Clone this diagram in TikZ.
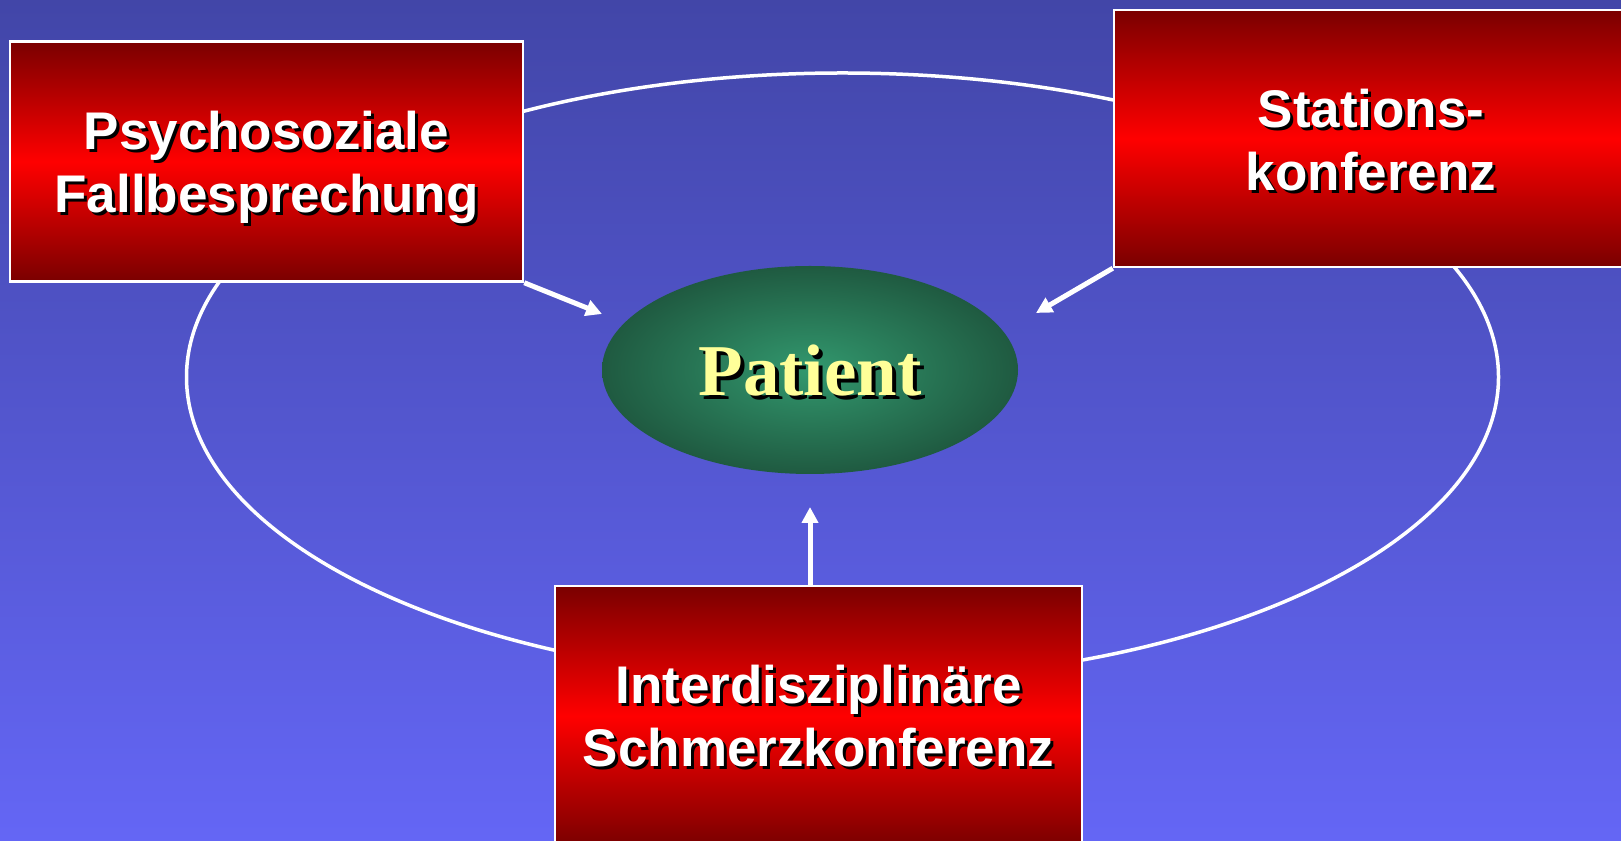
\documentclass[tikz,border=0pt]{standalone}
\usepackage{fontspec}
\setmainfont{Liberation Sans}
\newfontfamily\patientfont{Liberation Serif}
\usetikzlibrary{shapes.geometric,arrows.meta}
\definecolor{bgtop}{RGB}{66,70,168}
\definecolor{bgbot}{RGB}{100,102,245}
\definecolor{boxdark}{RGB}{122,0,0}
\definecolor{boxmid}{RGB}{255,0,0}
\definecolor{pcenter}{RGB}{50,152,110}
\definecolor{pedge}{RGB}{25,70,50}
\definecolor{ptext}{RGB}{255,255,153}
\pgfdeclareradialshading{patientshade}{\pgfpoint{0bp}{0bp}}{color(0bp)=(pcenter); color(33bp)=(pedge); color(50bp)=(pedge)}
\newcommand\shad[2][3pt]{\makebox[0pt][l]{\kern#1\raisebox{-#1}{\color{black}#2}}#2}
\begin{document}
\begin{tikzpicture}[x=1pt,y=1pt,
  box/.style={rectangle, draw=white, line width=2.5pt, top color=boxdark, bottom color=boxdark, middle color=boxmid, text=white, align=center, inner sep=0pt, text depth=5pt, font=\fontsize{53}{63.3}\selectfont\bfseries},
  ring/.style={draw=white, line width=3.5pt},
  conn/.style={draw=white, line width=5pt, -{Triangle[length=16pt,width=16pt]}}]
\useasboundingbox (0,0) rectangle (1621,840);
\clip (0,0) rectangle (1621,840);
\shade[top color=bgtop, bottom color=bgbot] (0,0) rectangle (1621,840);
\draw[ring] (842.5,463) ellipse [x radius=656, y radius=304];
\node[box, minimum width=513pt, minimum height=240pt, text height=107.4pt] (boxL) at (266.5,678.5) {\shad{Psychosoziale}\\\shad{Fallbesprechung}};
\node[box, minimum width=514pt, minimum height=257pt, text height=109.4pt] (boxR) at (1371,701.5) {\shad{Stations-}\\\shad{konferenz}};
\node[box, minimum width=527pt, minimum height=260pt, text height=106.4pt] (boxB) at (818.5,124) {\shad{Interdisziplinäre}\\\shad{Schmerzkonferenz}};
\node[ellipse, minimum width=416pt, minimum height=208pt, inner sep=0pt, shading=patientshade, text=ptext, text height=57pt, text depth=5pt, font=\patientfont\bfseries\fontsize{73}{80}\selectfont] (patient) at (810,470) {\shad[4pt]{Patient}};
\coordinate (tipL) at (602,526);
\coordinate (tipR) at (1036,527);
\coordinate (tipB) at (810,333);
\draw[conn] (boxL.south east) -- (tipL);
\draw[conn] (boxR.south west) -- (tipR);
\draw[conn] (tipB |- boxB.north) -- (tipB);
\end{tikzpicture}
\end{document}
